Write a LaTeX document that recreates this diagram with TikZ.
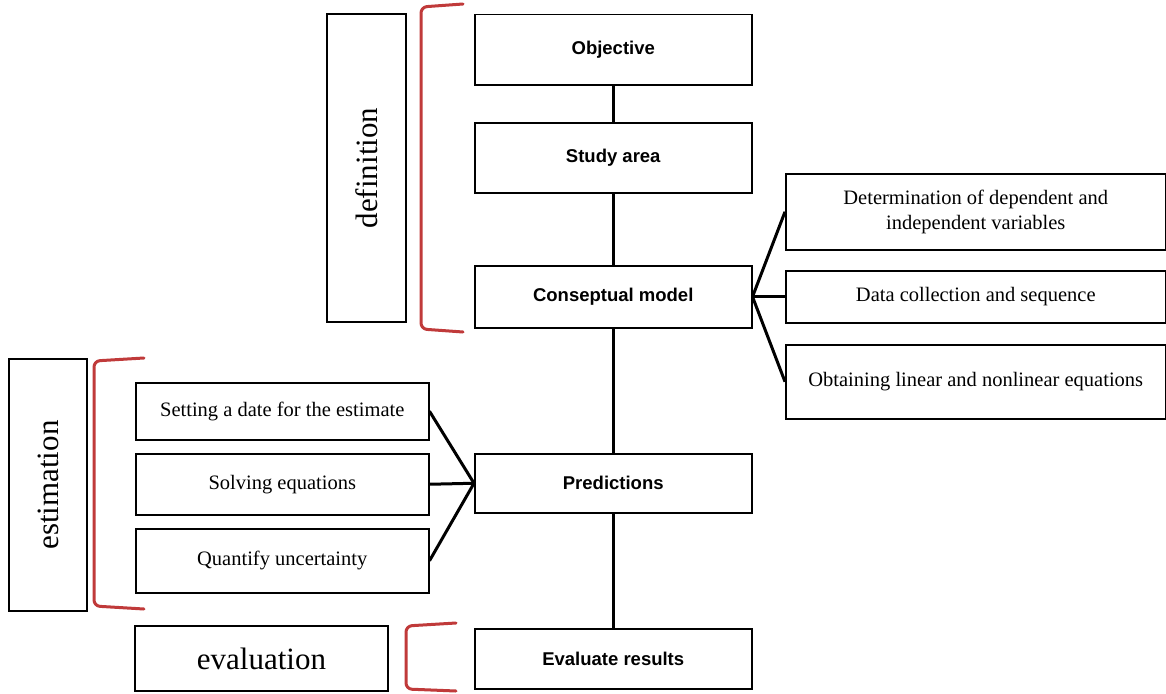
\documentclass[tikz,border=0pt]{standalone}
\usepackage{fontspec}
\setmainfont{Liberation Serif}
\newfontfamily\arialf{Liberation Sans}
\definecolor{brred}{RGB}{192,58,58}
\begin{document}
\begin{tikzpicture}[x=1pt,y=-1pt,
  mainbox/.style={draw, line width=1.5pt, inner sep=0pt, anchor=north west, align=center,
    font=\arialf\bfseries\fontsize{18.5}{22}\selectfont},
  subbox/.style={draw, line width=1.5pt, inner sep=0pt, anchor=north west, align=center,
    font=\fontsize{20.5}{25}\selectfont},
  phasebox/.style={draw, line width=1.5pt, inner sep=0pt, align=center,
    font=\fontsize{31}{36}\selectfont},
  link/.style={line width=3pt},
  brack/.style={draw=brred, line width=3pt, rounded corners=6pt, line cap=round}]
\useasboundingbox (0,0) rectangle (1166,693);

% main column
\node[mainbox, minimum width=277, minimum height=70] (obj) at (474,14) {Objective};
\node[mainbox, minimum width=277, minimum height=70] (study) at (474,122) {Study area};
\node[mainbox, minimum width=277, minimum height=62] (cm) at (474,265) {Conseptual model};
\node[mainbox, minimum width=277, minimum height=59] (pred) at (474,453) {Predictions};
\node[mainbox, minimum width=277, minimum height=60] (evr) at (474,628) {Evaluate results};

% right boxes
\node[subbox, minimum width=380, minimum height=76] (d1) at (785,173) {Determination of dependent and\\independent variables};
\node[subbox, minimum width=380, minimum height=52] (d2) at (785,270) {Data collection and sequence};
\node[subbox, minimum width=380, minimum height=74] (d3) at (785,344) {Obtaining linear and nonlinear equations};

% left boxes
\node[subbox, minimum width=293, minimum height=57] (s1) at (135,382) {Setting a date for the estimate};
\node[subbox, minimum width=293, minimum height=61] (s2) at (135,453) {Solving equations};
\node[subbox, minimum width=293, minimum height=64] (s3) at (135,528) {Quantify uncertainty};

% phase boxes
\node[phasebox, rotate=90, minimum width=308, minimum height=79] (defb) at (366.5,168) {definition};
\node[phasebox, rotate=90, minimum width=252, minimum height=78] (estb) at (48,485) {estimation};
\node[phasebox, minimum width=253, minimum height=65] (evalb) at (261.5,658.5) {evaluation};

% connectors
\draw[link] (obj) -- (study);
\draw[link] (study) -- (cm);
\draw[link] (cm) -- (pred);
\draw[link] (pred) -- (evr);
\draw[link] (cm.east) -- (d1.west);
\draw[link] (cm.east) -- (d2.west);
\draw[link] (cm.east) -- (d3.west);
\draw[link] (pred.west) -- (s1.east);
\draw[link] (pred.west) -- (s2.east);
\draw[link] (pred.west) -- (s3.east);

% red brackets
\draw[brack] (463,4) -- (421,7) -- (421,329) -- (463,332);
\draw[brack] (144,358) -- (94,361) -- (94,606) -- (144,609);
\draw[brack] (456,623) -- (406,626) -- (406,689) -- (456,691);
\end{tikzpicture}
\end{document}
